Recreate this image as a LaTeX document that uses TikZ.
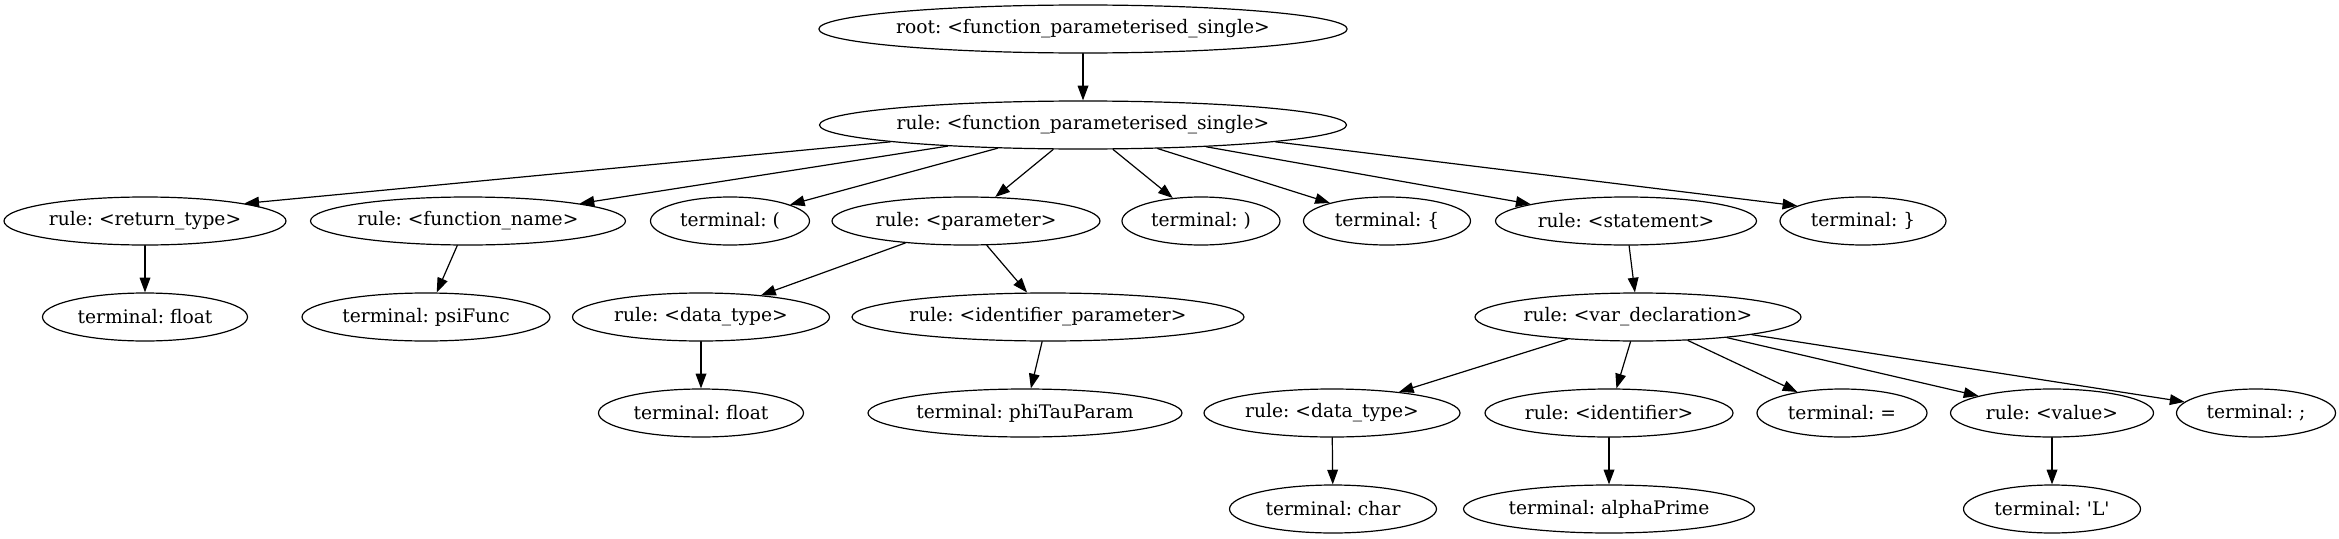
\documentclass[tikz,border=0pt]{standalone}
\usepackage{fontspec}
\setmainfont{DejaVu Serif}
\usetikzlibrary{shapes.geometric,arrows.meta}

\begin{document}
\begin{tikzpicture}[x=0.75pt,y=-0.75pt,line cap=round,line join=round,
    tnode/.style={draw,ellipse,line width=0.9pt,inner xsep=0pt,inner ysep=2pt,
      minimum height=36pt,font=\fontsize{14}{16}\selectfont\frenchspacing},
    edge/.style={draw,line width=0.9pt,-{Triangle[length=11pt,width=8pt]}}]
  \useasboundingbox (0,0) rectangle (2339,539);

  % ranks 0 and 1
  \node[tnode,minimum width=388.5pt] (root) at (1083,29) {root: <function\_parameterised\_single>};
  \node[tnode,minimum width=387.75pt] (fps) at (1083,125) {rule: <function\_parameterised\_single>};

  % rank 2
  \node[tnode,minimum width=211.5pt] (rtype) at (145,221) {rule: <return\_type>};
  \node[tnode,minimum width=236.25pt] (fname) at (468,221) {rule: <function\_name>};
  \node[tnode,minimum width=119.25pt] (lpar) at (730,221) {terminal: (};
  \node[tnode,minimum width=201pt] (param) at (966,221) {rule: <parameter>};
  \node[tnode,minimum width=118.5pt] (rpar) at (1201,221) {terminal: )};
  \node[tnode,minimum width=125.25pt] (lbrace) at (1387,221) {terminal: \{};
  \node[tnode,minimum width=195.75pt] (stmt) at (1626,221) {rule: <statement>};
  \node[tnode,minimum width=124.5pt] (rbrace) at (1863,221) {terminal: \}};

  % rank 3
  \node[tnode,minimum width=153.75pt] (tfloat) at (145,317) {terminal: float};
  \node[tnode,minimum width=186pt] (tpsi) at (426,317) {terminal: psiFunc};
  \node[tnode,minimum width=192.75pt] (dtype) at (701,317) {rule: <data\_type>};
  \node[tnode,minimum width=294pt] (idparam) at (1048,317) {rule: <identifier\_parameter>};
  \node[tnode,minimum width=244.5pt] (vardecl) at (1638,317) {rule: <var\_declaration>};

  % rank 4
  \node[tnode,minimum width=153.75pt] (tfloatb) at (701,413) {terminal: float};
  \node[tnode,minimum width=235.5pt] (tphi) at (1025,413) {terminal: phiTauParam};
  \node[tnode,minimum width=192pt] (dtypeb) at (1332,413) {rule: <data\_type>};
  \node[tnode,minimum width=186pt] (ident) at (1609,413) {rule: <identifier>};
  \node[tnode,minimum width=127.5pt] (teq) at (1842,413) {terminal: =};
  \node[tnode,minimum width=152.25pt] (value) at (2052,413) {rule: <value>};
  \node[tnode,minimum width=119.25pt] (tsemi) at (2256,413) {terminal: ;};

  % rank 5
  \node[tnode,minimum width=155.25pt] (tchar) at (1333,509) {terminal: char};
  \node[tnode,minimum width=218.25pt] (talpha) at (1609,509) {terminal: alphaPrime};
  \node[tnode,minimum width=132.75pt] (tL) at (2052,509) {terminal: \textquotesingle L\textquotesingle};

  % edges
  \foreach \a/\b in {root/fps, fps/fname, fps/lpar, fps/param, fps/rpar,
      fps/lbrace, fps/stmt, rtype/tfloat, fname/tpsi, param/dtype,
      param/idparam, dtype/tfloatb, idparam/tphi, stmt/vardecl, vardecl/dtypeb,
      vardecl/ident, vardecl/teq, vardecl/value, vardecl/tsemi, dtypeb/tchar,
      ident/talpha, value/tL}
    \draw[edge] (\a) -- (\b);
  % the two outer edges
  \draw[edge] (fps.185) -- (rtype.10);
  \draw[edge] (fps.355) -- (rbrace.167);
\end{tikzpicture}
\end{document}
